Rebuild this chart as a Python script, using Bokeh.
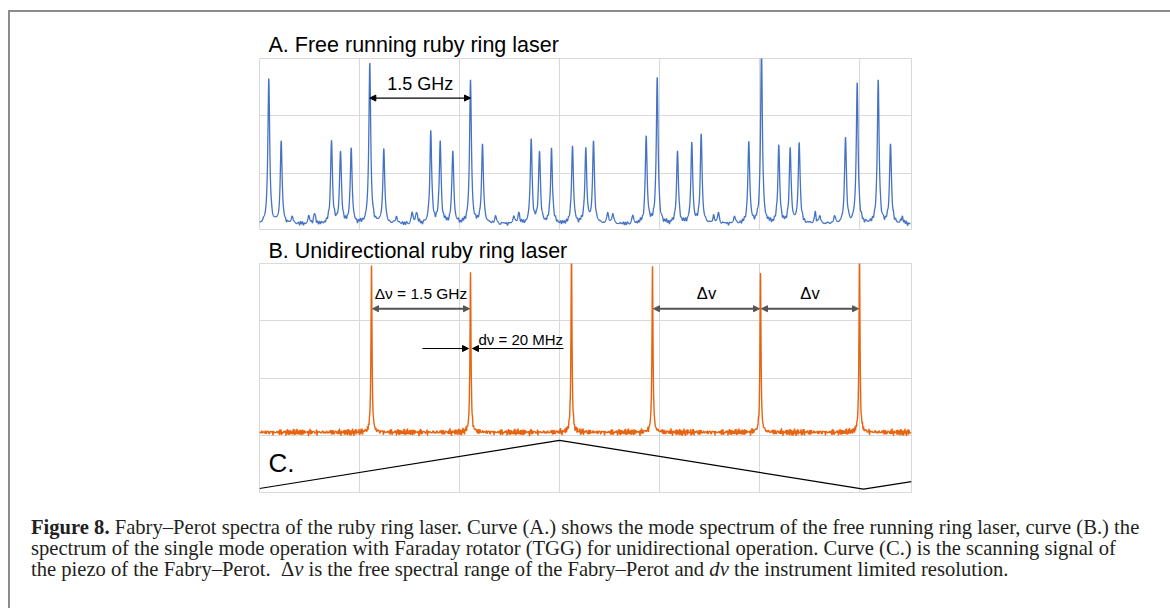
import numpy as np
from bokeh.plotting import figure
from bokeh.models import Range1d, FixedTicker, Arrow, NormalHead, Div
from bokeh.layouts import column
from bokeh.core.properties import value
from bokeh.embed import file_html
from bokeh.resources import INLINE

# ---------------- data (x in grid units: one vertical gridline step = 1) ----------------
X_MAX = 6.52
X_TICKS = [1, 2, 3, 4, 5, 6]

# A. free running ring laser: mode peaks (position, top of peak)
A_PEAK_X = [0.093, 0.217, 0.327, 0.493, 0.55, 0.72, 0.81, 0.917, 1.103, 1.243,
            1.37, 1.527, 1.57, 1.713, 1.807, 1.933, 2.11, 2.23, 2.36, 2.543,
            2.593, 2.717, 2.80, 2.92, 3.13, 3.263, 3.34, 3.483, 3.533, 3.733,
            3.867, 3.977, 4.18, 4.323, 4.417, 4.543, 4.59, 4.75, 4.893, 5.02,
            5.193, 5.307, 5.397, 5.557, 5.603, 5.75, 5.86, 5.977, 6.187, 6.31,
            6.427]
A_PEAK_TOP = [2.63, 1.53, 0.23, 0.23, 0.28, 1.57, 1.37, 1.41, 2.91, 1.41,
              0.23, 0.28, 0.30, 1.70, 1.53, 1.37, 2.59, 1.49, 0.23, 0.23,
              0.28, 1.57, 1.37, 1.41, 1.45, 1.41, 1.53, 0.28, 0.28, 0.23,
              1.62, 2.63, 1.37, 1.49, 1.65, 0.23, 0.28, 0.23, 1.53, 3.10,
              1.45, 1.41, 1.53, 0.28, 0.23, 0.23, 1.62, 2.55, 2.59, 1.53,
              0.23]
A_BASELINE = 0.105
A_NOISE = 0.055
A_Y_MAX = 3.0
A_Y_TICKS = [1, 2]

# B. unidirectional ring laser: single-mode peaks
B_PEAK_X = [1.12, 2.11, 3.12, 3.93, 5.01, 6.00]
B_PEAK_TOP = [3.97, 3.83, 4.20, 3.95, 3.83, 4.20]
B_BASELINE = 1.05
B_NOISE = 0.075

# C. piezo scanning signal (triangle)
C_RAMP_X = [0.0, 3.0, 6.04, 6.52]
C_RAMP_Y = [0.07, 0.91, 0.06, 0.19]

BC_Y_MAX = 4.0
BC_Y_TICKS = [1, 2, 3]

# baseline texture (detector noise look), values in [-1, 1]
TEX1 = [0.2, -0.7, 0.5, -0.3, 0.9, -0.5, 0.1, -0.9, 0.6, -0.2, 0.8, -0.6, 0.3]
TEX2 = [-0.4, 0.7, -0.8, 0.2, -0.1, 0.6, -0.5, 0.9, -0.3, 0.4, -0.7, 0.1, 0.5,
        -0.9, 0.3, -0.2, 0.8]

BLUE = "#4472C4"
ORANGE = "#E8630F"
GRID = "#d9d9d9"


def spectrum(px, ptop, base, gamma, amp, step):
    xg = np.arange(0.0, X_MAX + step / 2, step)
    n = np.arange(len(xg))
    tex = (np.array(TEX1)[n % len(TEX1)] + np.array(TEX2)[n % len(TEX2)]) / 2.0
    fine = [p + np.arange(-0.05, 0.05, 0.0015) for p in px]
    xs = np.unique(np.concatenate([xg, np.array(px)] + fine))
    xs = xs[(xs >= 0) & (xs <= X_MAX)]
    y = np.full_like(xs, base) + amp * np.interp(xs, xg, tex)
    for p, t in zip(px, ptop):
        a = t - base
        y += a * gamma ** 2 / ((xs - p) ** 2 + gamma ** 2)
    return xs, y


W = 1152
LEFT = 249          # frame left inside the framed column
FRAME_W = 652
RIGHT = W - LEFT - FRAME_W
SANS = "Liberation Sans"


def panel(height, top, bottom, ymax, yticks, title, standoff):
    p = figure(width=W, height=height, x_range=Range1d(0, X_MAX), y_range=Range1d(0, ymax),
               x_axis_location=None, y_axis_location=None,
               min_border_left=LEFT, min_border_right=RIGHT,
               min_border_top=top, min_border_bottom=bottom,
               output_backend="svg", toolbar_location=None, title=title)
    p.title.align = "left"
    p.title.offset = 9
    p.title.text_font = SANS
    p.title.text_font_size = "21.5px"
    p.title.text_font_style = "normal"
    p.title.text_color = "black"
    p.title.standoff = standoff
    p.xgrid.ticker = FixedTicker(ticks=X_TICKS)
    p.ygrid.ticker = FixedTicker(ticks=yticks)
    p.grid.grid_line_color = GRID
    p.grid.grid_line_width = 1
    p.outline_line_color = GRID
    p.outline_line_width = 1
    p.border_fill_color = "white"
    p.background_fill_color = "white"
    return p


TXT = dict(text_baseline="middle", text_font=value(SANS), text_color="black")

# ---------------- panel A ----------------
pA = panel(218, 46, 0, A_Y_MAX, A_Y_TICKS, "A. Free running ruby ring laser", 4)
xa, ya = spectrum(A_PEAK_X, A_PEAK_TOP, A_BASELINE, 0.011, A_NOISE, 0.01)
pA.line(xa, ya, line_color=BLUE, line_width=1.3)
yA_arrow = 2.31
pA.add_layout(Arrow(x_start=A_PEAK_X[8], y_start=yA_arrow, x_end=A_PEAK_X[16], y_end=yA_arrow,
                    start=NormalHead(size=6, fill_color="black", line_color="black"),
                    end=NormalHead(size=6, fill_color="black", line_color="black"),
                    line_color="black", line_width=1.2))
pA.text(x=[(A_PEAK_X[8] + A_PEAK_X[16]) / 2], y=[2.547], text=["1.5 GHz"],
        text_align="center", text_font_size="18px", **TXT)

# ---------------- panels B + C ----------------
pB = panel(270, 33, 8, BC_Y_MAX, BC_Y_TICKS, "B. Unidirectional ruby ring laser", 2)
xb, yb = spectrum(B_PEAK_X, B_PEAK_TOP, B_BASELINE, 0.006, B_NOISE, 0.005)
pB.line(xb, yb, line_color=ORANGE, line_width=1.4)
pB.line(C_RAMP_X, C_RAMP_Y, line_color="black", line_width=1.2)
pB.text(x=[0.09], y=[0.515], text=["C."], text_font_size="26px", **TXT)

ARR_GRAY = "#555555"
yB_arrow = 3.21
fsr_pairs = [(0, 1), (3, 4), (4, 5)]
for i, j in fsr_pairs:
    pB.add_layout(Arrow(x_start=B_PEAK_X[i] + 0.01, y_start=yB_arrow,
                        x_end=B_PEAK_X[j] - 0.01, y_end=yB_arrow,
                        start=NormalHead(size=6, fill_color=ARR_GRAY, line_color=ARR_GRAY),
                        end=NormalHead(size=6, fill_color=ARR_GRAY, line_color=ARR_GRAY),
                        line_color=ARR_GRAY, line_width=2))
pB.text(x=[(B_PEAK_X[0] + B_PEAK_X[1]) / 2], y=[3.476], text=["Δν = 1.5 GHz"],
        text_align="center", text_font_size="15.5px", **TXT)
pB.text(x=[(B_PEAK_X[3] + B_PEAK_X[4]) / 2, (B_PEAK_X[4] + B_PEAK_X[5]) / 2],
        y=[3.485, 3.485], text=["Δv", "Δv"],
        text_align="center", text_font_size="16.5px", **TXT)
yD = 2.515
pB.add_layout(Arrow(x_start=1.63, y_start=yD, x_end=B_PEAK_X[1] - 0.02, y_end=yD,
                    end=NormalHead(size=6, fill_color="black", line_color="black"),
                    line_color="black", line_width=1))
pB.add_layout(Arrow(x_start=3.04, y_start=yD, x_end=B_PEAK_X[1] + 0.02, y_end=yD,
                    end=NormalHead(size=6, fill_color="black", line_color="black"),
                    line_color="black", line_width=1))
pB.text(x=[2.19], y=[2.664], text=["dν = 20 MHz"], text_align="left",
        text_font_size="15px", **TXT)

# ---------------- caption ----------------
caption_html = (
    "<b>Figure\u00a08.</b> Fabry–Perot spectra of the ruby ring laser. Curve (A.) shows the mode "
    "spectrum of the free running ring laser, curve (B.) the<br>"
    "spectrum of the single mode operation with Faraday rotator (TGG) for unidirectional "
    "operation. Curve (C.) is the scanning signal of<br>"
    "the piezo of the Fabry–Perot. \u00a0Δ<i>ν</i> is the free spectral range of the "
    "Fabry–Perot and <i>dν</i> the instrument limited resolution."
)
cap = Div(text=caption_html, width=W, height=98,
          styles={"font-family": "'Liberation Serif', serif", "font-size": "20.6px",
                  "line-height": "21.2px", "color": "#231f20", "padding-left": "16px",
                  "padding-top": "12px", "white-space": "nowrap", "box-sizing": "border-box"})

layout = column(pA, pB, cap, spacing=0,
                styles={"border-left": "2px solid #8c8c8c", "border-top": "2px solid #8c8c8c",
                        "border-right": "2px solid #8c8c8c", "margin-top": "10px",
                        "margin-left": "8px", "background": "white"})

open("out.html", "w").write(file_html(layout, INLINE))
